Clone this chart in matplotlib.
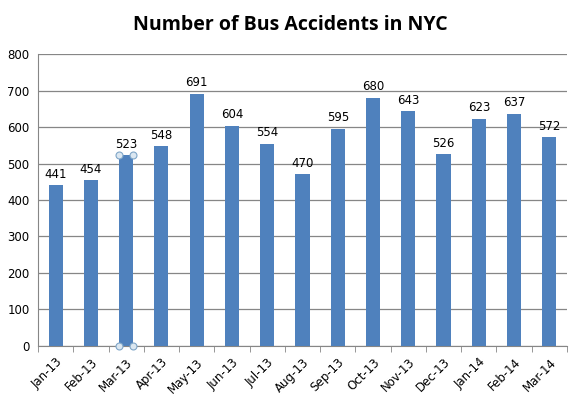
import matplotlib

matplotlib.use("Agg")
import matplotlib.pyplot as plt
import numpy as np

months = ["Jan-13", "Feb-13", "Mar-13", "Apr-13", "May-13", "Jun-13", "Jul-13", "Aug-13",
          "Sep-13", "Oct-13", "Nov-13", "Dec-13", "Jan-14", "Feb-14", "Mar-14"]
accidents = [441, 454, 523, 548, 691, 604, 554, 470, 595, 680, 643, 526, 623, 637, 572]
selected = "Mar-13"  # bar shown with Excel selection handles

fig = plt.figure(figsize=(5.73, 3.96), dpi=100)
ax = fig.add_axes([0.0663, 0.1263, 0.9232, 0.7373])

x = np.arange(len(months))
bars = ax.bar(x, accidents, width=0.4, color="#4F81BD", zorder=3)
for xi, v in zip(x, accidents):
    ax.text(xi, v + 12, str(v), ha="center", va="bottom", fontsize=8.5, color="black")

# selection handles on the chosen bar
b = bars[months.index(selected)]
bx0, bx1, bh = b.get_x(), b.get_x() + b.get_width(), b.get_height()
ax.plot([bx0, bx1, bx0, bx1], [bh, bh, 0, 0], "o", ms=5, mfc="#dbe7f1", mec="#7fa6c8",
        mew=0.8, zorder=5, clip_on=False)

ax.set_xlim(-0.5, len(months) - 0.5)
ax.set_ylim(0, 800)
ax.set_yticks(range(0, 801, 100))
ax.yaxis.grid(True, color="#868686", lw=0.9, zorder=0)
ax.tick_params(axis="y", length=0, labelsize=8.5, pad=6)

ax.set_xticks(x)
ax.set_xticklabels(months, rotation=45, ha="right", rotation_mode="anchor", fontsize=8.5)
ax.set_xticks(np.arange(-0.5, len(months)), minor=True)
ax.tick_params(axis="x", which="major", length=0, pad=7)
ax.tick_params(axis="x", which="minor", length=4, color="#868686", direction="out")

for side in ["top", "right"]:
    ax.spines[side].set_visible(False)
for side in ["left", "bottom"]:
    ax.spines[side].set_color("#868686")

fig.suptitle("Number of Bus Accidents in NYC", x=0.506, y=0.962, fontsize=14,
             fontweight="bold", family="Open Sans")

fig.savefig("out.png", dpi=100)
